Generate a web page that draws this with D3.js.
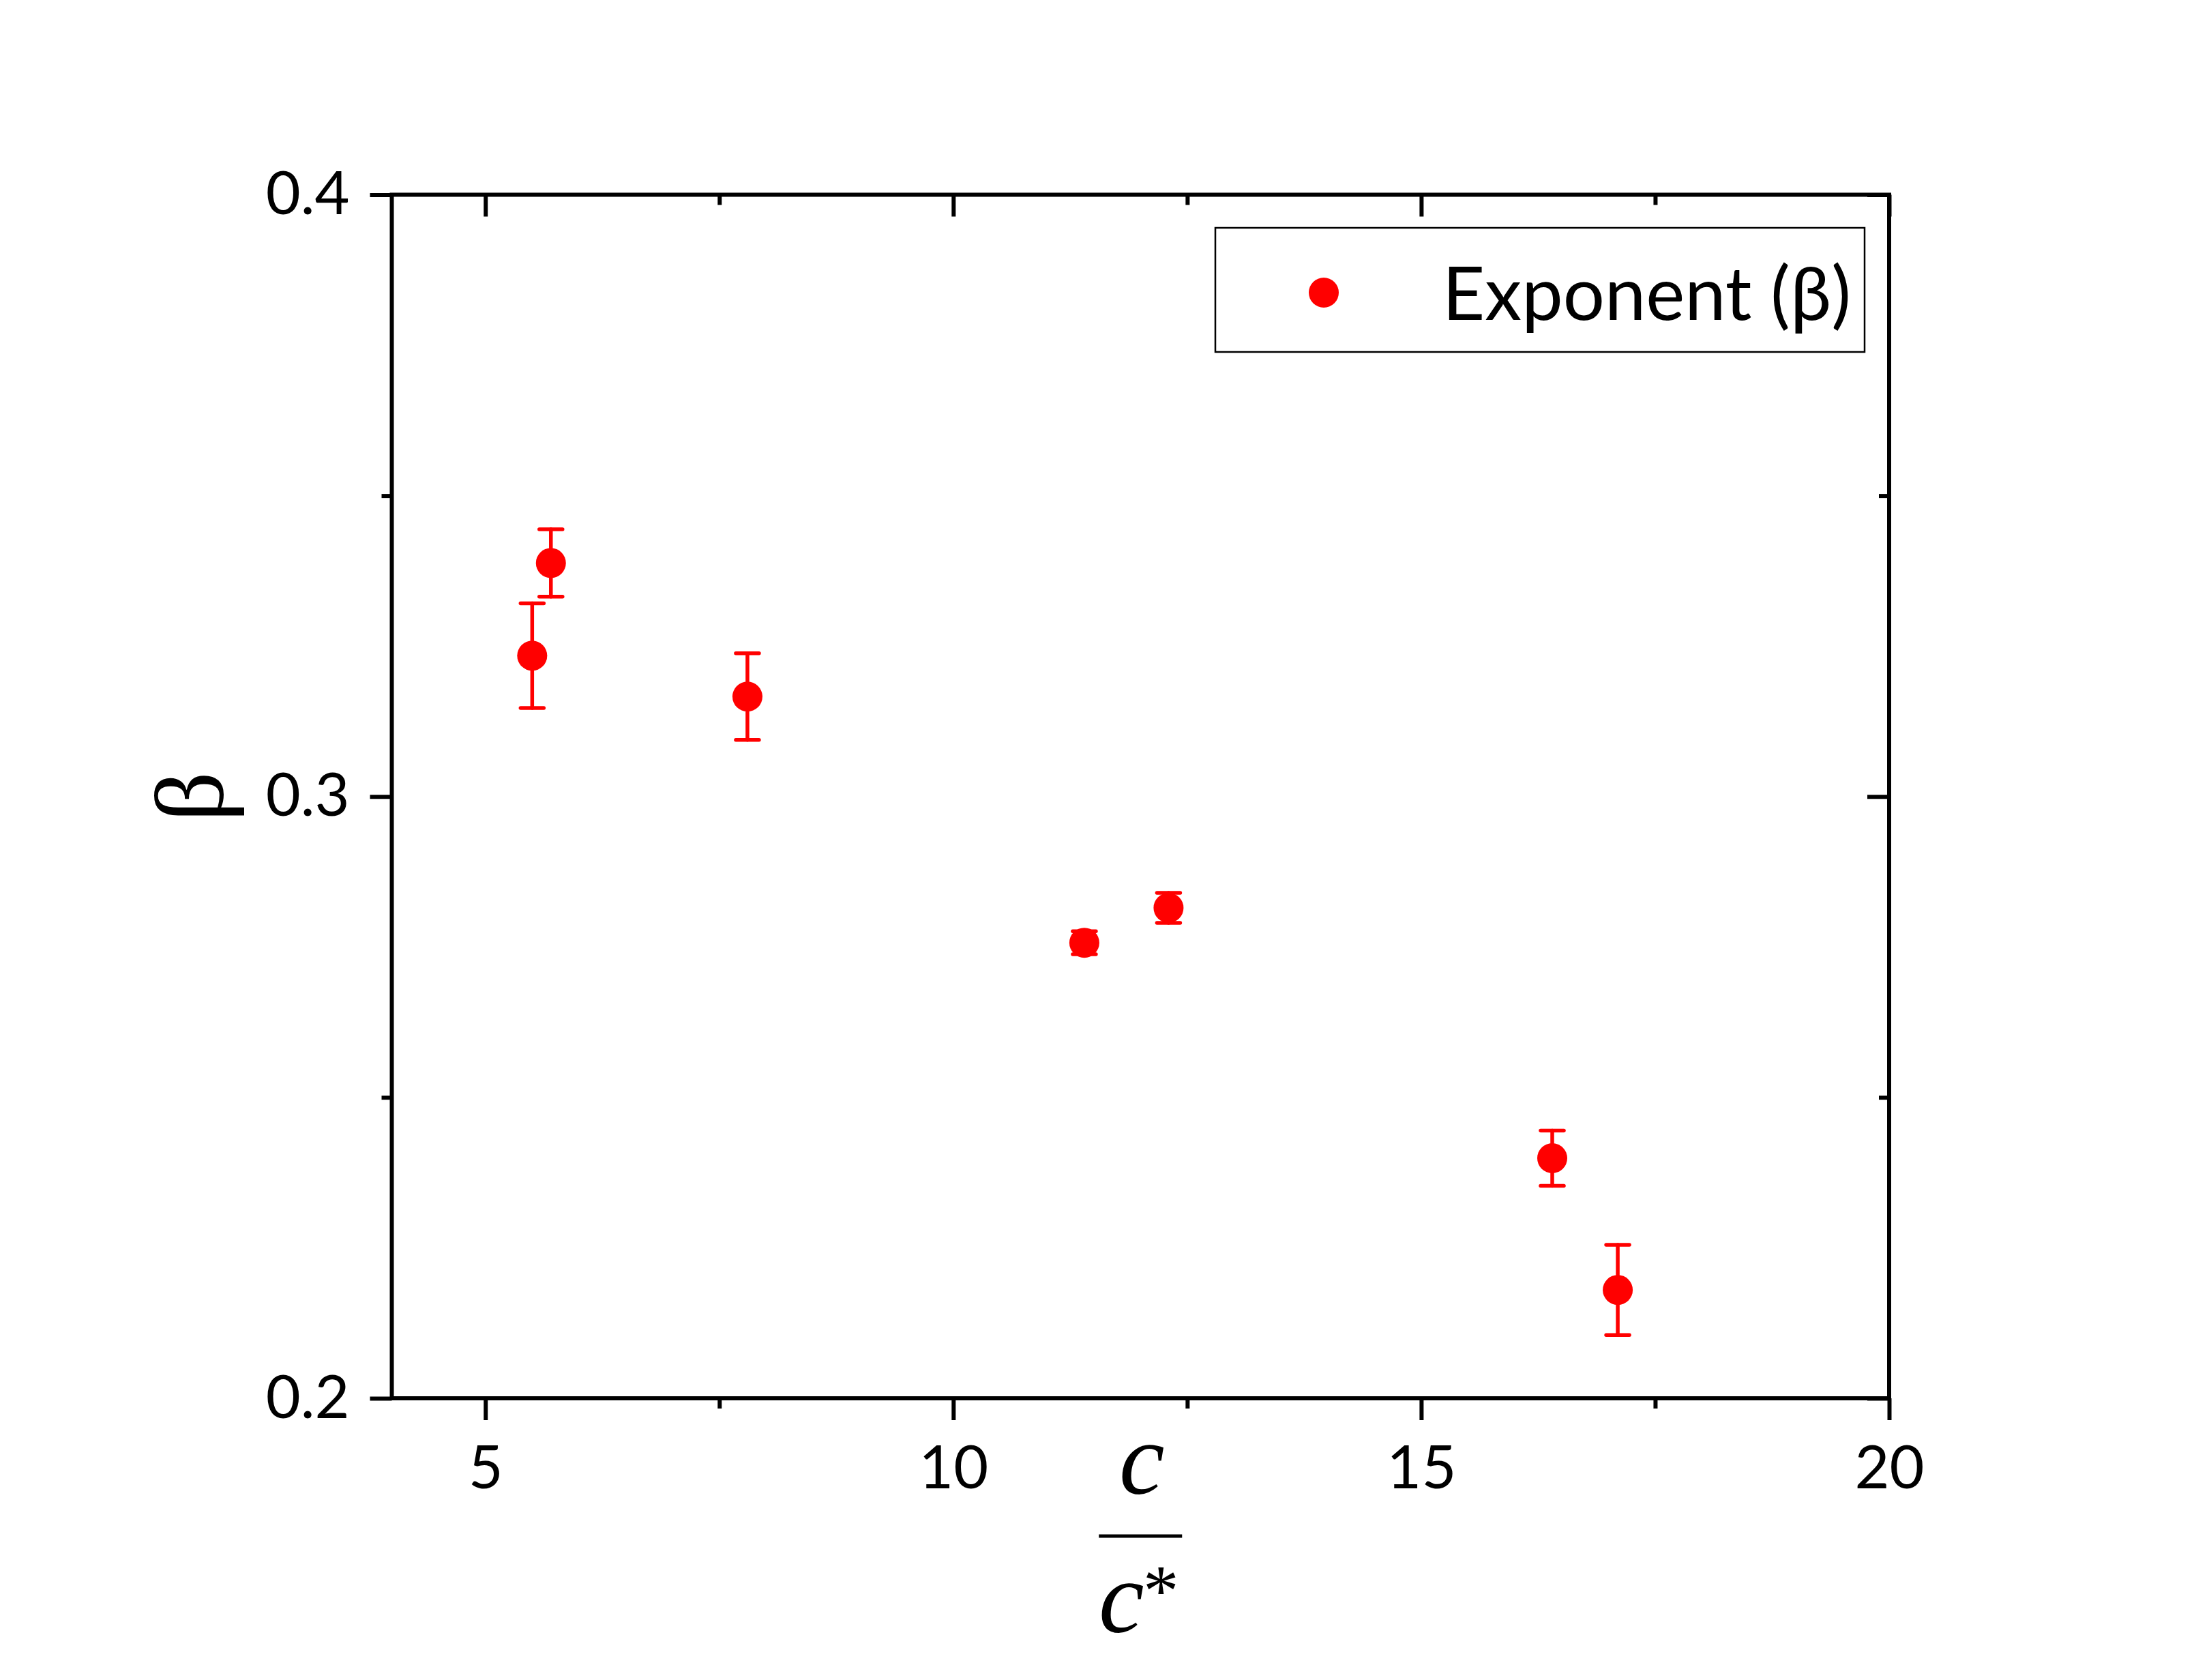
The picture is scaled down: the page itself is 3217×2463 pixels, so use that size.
<!DOCTYPE html>
<html>
<head>
<meta charset="utf-8">
<script src="https://cdn.jsdelivr.net/npm/d3@7"></script>
<style>
  body { margin: 0; background: #fff; }
  .axis text { font-family: Lato, "Noto Sans", sans-serif; fill: #000; }
</style>
</head>
<body>
<div id="chart"></div>
<script>
// c / c* values, the fitted exponent and its error
var concRatio = [5.5, 5.7, 7.8, 11.4, 12.3, 16.4, 17.1]
var beta = [0.3234, 0.3388, 0.3166, 0.2757, 0.2815, 0.2399, 0.2180]
var betaErr = [0.0087, 0.0056, 0.0072, 0.0019, 0.0025, 0.0046, 0.0075]

var xMajorTicks = [5, 10, 15, 20]
var xMinorTicks = [7.5, 12.5, 17.5]
var yMajorTicks = [0.2, 0.3, 0.4]
var yMinorTicks = [0.25, 0.35]
var legendLabel = 'Exponent (β)'

var datapoints = concRatio.map((c, i) => ({ c: c, beta: beta[i], err: betaErr[i] }))

var totalWidth = 3217
var totalHeight = 2463
var margin = { left: 574.5, top: 285.5, right: 447, bottom: 413 }
var width = totalWidth - margin.left - margin.right
var height = totalHeight - margin.top - margin.bottom

var svg = d3.select('#chart')
  .append('svg')
  .attr('width', totalWidth)
  .attr('height', totalHeight)
  .append('g')
  .attr('transform', `translate(${margin.left},${margin.top})`)

var xPositionScale = d3.scaleLinear().domain([4, 20]).range([0, width])
var yPositionScale = d3.scaleLinear().domain([0.2, 0.4]).range([height, 0])

var majorLen = 32
var minorLen = 15

function styleAxis(g) {
  g.select('.domain').remove()
  g.selectAll('.tick line').attr('stroke', '#000').attr('stroke-width', 6)
  g.selectAll('.tick text').attr('font-size', 88)
}

// bottom (outward ticks, labelled)
svg.append('g')
  .attr('class', 'axis')
  .attr('transform', `translate(0,${height})`)
  .call(d3.axisBottom(xPositionScale).tickValues(xMajorTicks).tickFormat(d3.format('d'))
    .tickSize(majorLen).tickPadding(38))
  .call(styleAxis)

svg.append('g')
  .attr('class', 'axis')
  .attr('transform', `translate(0,${height})`)
  .call(d3.axisBottom(xPositionScale).tickValues(xMinorTicks).tickFormat('').tickSize(minorLen))
  .call(styleAxis)

// left (outward ticks, labelled)
svg.append('g')
  .attr('class', 'axis')
  .call(d3.axisLeft(yPositionScale).tickValues(yMajorTicks).tickFormat(d3.format('.1f'))
    .tickSize(majorLen).tickPadding(30))
  .call(styleAxis)

svg.append('g')
  .attr('class', 'axis')
  .call(d3.axisLeft(yPositionScale).tickValues(yMinorTicks).tickFormat('').tickSize(minorLen))
  .call(styleAxis)

// top and right mirror ticks point inward
svg.append('g')
  .attr('class', 'axis')
  .call(d3.axisTop(xPositionScale).tickValues(xMajorTicks).tickFormat('').tickSize(-majorLen))
  .call(styleAxis)

svg.append('g')
  .attr('class', 'axis')
  .call(d3.axisTop(xPositionScale).tickValues(xMinorTicks).tickFormat('').tickSize(-minorLen))
  .call(styleAxis)

svg.append('g')
  .attr('class', 'axis')
  .attr('transform', `translate(${width},0)`)
  .call(d3.axisRight(yPositionScale).tickValues(yMajorTicks).tickFormat('').tickSize(-majorLen))
  .call(styleAxis)

svg.append('g')
  .attr('class', 'axis')
  .attr('transform', `translate(${width},0)`)
  .call(d3.axisRight(yPositionScale).tickValues(yMinorTicks).tickFormat('').tickSize(-minorLen))
  .call(styleAxis)

// frame
svg.append('rect')
  .attr('width', width)
  .attr('height', height)
  .attr('fill', 'none')
  .attr('stroke', '#000')
  .attr('stroke-width', 6)
  .attr('stroke-linecap', 'square')

// error bars go under the dots
var capHalf = 17
var errGroup = svg.append('g')
  .attr('stroke', '#ff0000')
  .attr('stroke-width', 5.5)
  .attr('stroke-linecap', 'round')

errGroup.selectAll('.stem')
  .data(datapoints)
  .enter().append('line')
  .attr('class', 'stem')
  .attr('x1', d => xPositionScale(d.c))
  .attr('x2', d => xPositionScale(d.c))
  .attr('y1', d => yPositionScale(d.beta + d.err))
  .attr('y2', d => yPositionScale(d.beta - d.err))

errGroup.selectAll('.cap-top')
  .data(datapoints)
  .enter().append('line')
  .attr('class', 'cap-top')
  .attr('x1', d => xPositionScale(d.c) - capHalf)
  .attr('x2', d => xPositionScale(d.c) + capHalf)
  .attr('y1', d => yPositionScale(d.beta + d.err))
  .attr('y2', d => yPositionScale(d.beta + d.err))

errGroup.selectAll('.cap-bottom')
  .data(datapoints)
  .enter().append('line')
  .attr('class', 'cap-bottom')
  .attr('x1', d => xPositionScale(d.c) - capHalf)
  .attr('x2', d => xPositionScale(d.c) + capHalf)
  .attr('y1', d => yPositionScale(d.beta - d.err))
  .attr('y2', d => yPositionScale(d.beta - d.err))

svg.append('g')
  .selectAll('circle')
  .data(datapoints)
  .enter().append('circle')
  .attr('cx', d => xPositionScale(d.c))
  .attr('cy', d => yPositionScale(d.beta))
  .attr('r', 22)
  .attr('fill', '#ff0000')

// legend
var legend = svg.append('g')
  .attr('transform', `translate(${1782 - margin.left},${334 - margin.top})`)

legend.append('rect')
  .attr('width', 952)
  .attr('height', 182)
  .attr('fill', '#fff')
  .attr('stroke', '#000')
  .attr('stroke-width', 2.5)

legend.append('circle')
  .attr('cx', 159)
  .attr('cy', 95)
  .attr('r', 22)
  .attr('fill', '#ff0000')

legend.append('text')
  .text(legendLabel)
  .attr('x', 333)
  .attr('y', 135)
  .attr('font-family', 'Lato, "Noto Sans", sans-serif')
  .attr('font-size', 108)
  .attr('fill', '#000')

// y axis title
svg.append('text')
  .text('β')
  .attr('transform', `translate(${327 - margin.left},${height / 2}) rotate(-90)`)
  .attr('text-anchor', 'middle')
  .attr('font-family', '"Liberation Serif", "DejaVu Serif", serif')
  .attr('font-size', 145)
  .attr('fill', '#000')

// x axis title: c over c*
var xTitle = svg.append('g')
  .attr('transform', `translate(${width / 2},${height})`)
  .attr('font-family', '"Liberation Serif", "DejaVu Serif", serif')
  .attr('fill', '#000')

xTitle.append('text')
  .text('c')
  .attr('x', 2)
  .attr('y', 140)
  .attr('text-anchor', 'middle')
  .attr('font-style', 'italic')
  .attr('font-size', 150)

xTitle.append('line')
  .attr('x1', -61)
  .attr('x2', 61)
  .attr('y1', 202)
  .attr('y2', 202)
  .attr('stroke', '#000')
  .attr('stroke-width', 5)

xTitle.append('text')
  .text('c')
  .attr('x', -28)
  .attr('y', 343)
  .attr('text-anchor', 'middle')
  .attr('font-style', 'italic')
  .attr('font-size', 150)

xTitle.append('text')
  .text('*')
  .attr('x', 30)
  .attr('y', 318)
  .attr('text-anchor', 'middle')
  .attr('font-size', 105)
</script>
</body>
</html>
